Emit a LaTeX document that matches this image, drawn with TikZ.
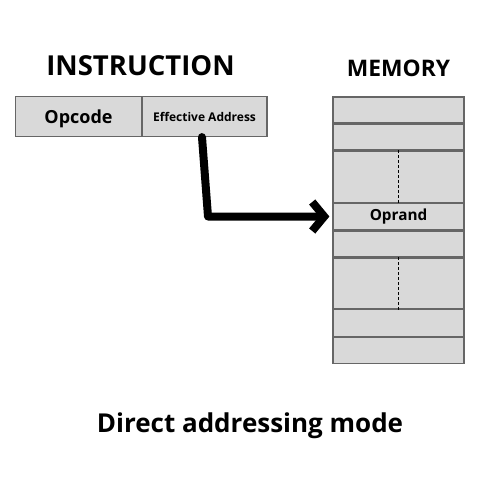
\documentclass[tikz,border=0pt]{standalone}
\usepackage{fontspec}
\setmainfont{Open Sans}
\usetikzlibrary{arrows.meta}

\begin{document}
\begin{tikzpicture}[x=1pt,y=-1pt,
		cell/.style={draw=black!60,fill=black!15,line width=1.2pt,inner sep=0pt,font=\bfseries},
		title/.style={inner sep=0pt,anchor=base,font=\bfseries},
		pointer/.style={line width=8pt,line cap=round,line join=round,-{Straight Barb[length=12pt,width=29pt]}},
		dots/.style={line width=1.6pt,dash pattern=on 3pt off 2pt}]
		\useasboundingbox (0,0) rectangle (500,500);
		% titles
		\node[title,font=\bfseries\fontsize{27.5}{33}\selectfont] (instr) at (140.5,76) {INSTRUCTION};
		\node[title,font=\bfseries\fontsize{22.8}{27}\selectfont] (mem) at (398.5,76.5) {MEMORY};
		\node[title,font=\bfseries\fontsize{26}{31}\selectfont] (cap) at (250,432) {Direct addressing mode};
		% instruction word
		\node[cell,minimum width=126.5pt,minimum height=40pt,text depth=0pt,font=\bfseries\fontsize{18}{22}\selectfont] (opc) at (78.5,116.5) {Opcode};
		\node[cell,minimum width=125pt,minimum height=40pt,font=\bfseries\fontsize{12}{14}\selectfont] (ea) at (204.5,116.5) {Effective Address};
		% memory
		\node[cell,minimum width=131pt,minimum height=26pt] (m1) at (398.5,110) {};
		\node[cell,minimum width=131pt,minimum height=26pt] (m2) at (398.5,137) {};
		\node[cell,minimum width=131pt,minimum height=52pt] (m3) at (398.5,177) {};
		\node[cell,minimum width=131pt,minimum height=27pt,font=\bfseries\fontsize{15.3}{18}\selectfont] (m4) at (398.5,216.5) {Oprand};
		\node[cell,minimum width=131pt,minimum height=26pt] (m5) at (398.5,244) {};
		\node[cell,minimum width=131pt,minimum height=51pt] (m6) at (398.5,283.5) {};
		\node[cell,minimum width=131pt,minimum height=26.5pt] (m7) at (398.5,323) {};
		\node[cell,minimum width=131pt,minimum height=26pt] (m8) at (398.5,350.5) {};
		\draw[dots] (m3.north) -- (m3.south);
		\draw[dots] (m6.north) -- (m6.south);
		% pointer
		\coordinate (bend) at (208,216.5);
		\draw[pointer] ([xshift=-2.5pt]ea.south) -- (bend) -- ([xshift=-3pt]m4.west);
\end{tikzpicture}
\end{document}
